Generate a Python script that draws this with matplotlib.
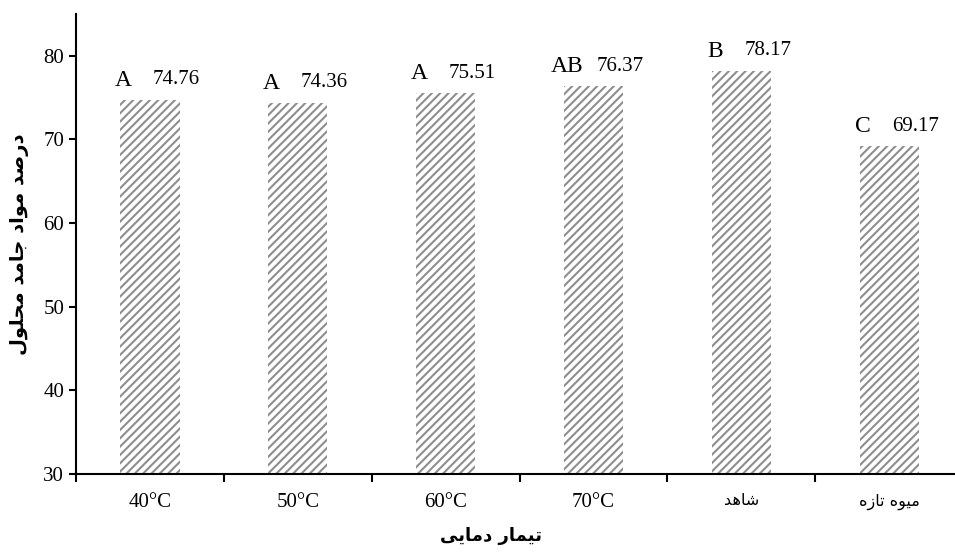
import matplotlib
matplotlib.use("Agg")
import matplotlib.pyplot as plt
import numpy as np

# Persian strings written in shaped presentation forms, in visual (left to right) order
ylabel_fa = "\uFEDD\uFEEE\uFEE0\uFEA4\uFEE3 \uFEAA\uFEE3\uFE8E\uFE9F \uFEA9\uFE8D\uFEEE\uFEE3 \uFEAA\uFEBB\uFEAD\uFEA9"
xlabel_fa = "\uFEF0\uFEF3\uFE8E\uFEE3\uFEA9 \uFEAD\uFE8E\uFEE4\uFEF4\uFE97"
control_fa = "\uFEAA\uFEEB\uFE8E\uFEB7"
fresh_fa = "\uFEE9\uFEAF\uFE8E\uFE97 \uFEE9\uFEEE\uFEF4\uFEE3"

categories = ["40°C", "50°C", "60°C", "70°C", control_fa, fresh_fa]
values = [74.76, 74.36, 75.51, 76.37, 78.17, 69.17]
letters = ["A", "A", "A", "AB", "B", "C"]
yticks = [30, 40, 50, 60, 70, 80]

plt.rcParams["font.family"] = ["Liberation Serif", "DejaVu Sans"]
plt.rcParams["hatch.color"] = "#8e8e8e"
plt.rcParams["hatch.linewidth"] = 1.5

fig = plt.figure(figsize=(9.55, 5.53), dpi=100)
ax = fig.add_axes([0.0796, 0.1429, 0.9288, 0.8318])

x = np.arange(len(categories))
bars = ax.bar(x, values, width=0.4, color="white", edgecolor="#8e8e8e",
              linewidth=0, hatch="////")

for xi, v, lt in zip(x, values, letters):
    ax.annotate(lt, (xi, v), xytext=(-19, 14), textcoords="offset points",
                ha="center", va="center", fontsize=17)
    ax.annotate(f"{v:.2f}", (xi, v), xytext=(19, 14.5), textcoords="offset points",
                ha="center", va="center", fontsize=15)

ax.set_xlim(-0.5, len(categories) - 0.5)
ax.set_ylim(30, 85)
ax.set_yticks(yticks)
ax.tick_params(axis="y", labelsize=15, length=5, width=1.5, direction="out")

ax.set_xticks(x)
ax.set_xticklabels(categories)
ax.set_xticks(np.arange(len(categories)) - 0.5, minor=True)
ax.tick_params(axis="x", which="major", length=0, pad=14, labelsize=15)
ax.tick_params(axis="x", which="minor", length=6, width=1.5, direction="out")
for lbl in ax.get_xticklabels()[4:]:
    lbl.set_family("DejaVu Sans")
    lbl.set_fontsize(11.5)

for s in ["top", "right"]:
    ax.spines[s].set_visible(False)
ax.spines["left"].set_linewidth(1.5)
ax.spines["bottom"].set_linewidth(1.5)

ax.set_ylabel(ylabel_fa, family="DejaVu Sans", fontweight="bold", fontsize=14, labelpad=10)
ax.set_xlabel(xlabel_fa, family="DejaVu Sans", fontweight="bold", fontsize=13, labelpad=14)
ax.xaxis.set_label_coords(0.468, -0.115)

fig.savefig("out.png", dpi=100)
